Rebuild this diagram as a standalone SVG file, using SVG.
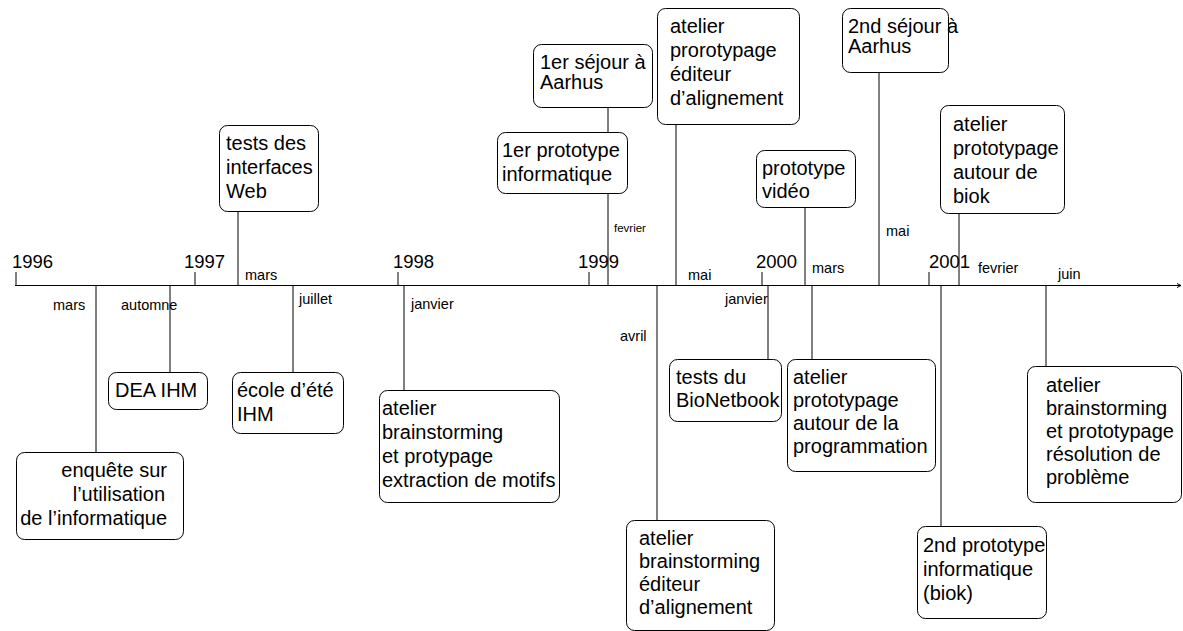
<svg xmlns="http://www.w3.org/2000/svg" width="1183" height="631" viewBox="0 0 1183 631">
<style>
.box{fill:#fff;stroke:#000;stroke-width:1}
.t{font-family:"Liberation Sans",Arial,sans-serif;font-size:20px;fill:#000}
.yr{font-family:"Liberation Sans",Arial,sans-serif;font-size:18.5px;fill:#000}
.sm{font-family:"Liberation Sans",Arial,sans-serif;font-size:14.5px;fill:#000}
.xs{font-family:"Liberation Sans",Arial,sans-serif;font-size:11.5px;fill:#000}
.ln{stroke:#000;stroke-width:1;fill:none}
</style>
<defs>
<marker id="arr" markerWidth="8" markerHeight="8" refX="6" refY="4" orient="auto" markerUnits="userSpaceOnUse">
<polyline points="2,2 6,4 2,6" fill="none" stroke="#000" stroke-width="1"/>
</marker>
</defs>
<g id="axis">
<line class="ln" x1="15" y1="285.5" x2="1181" y2="285.5" marker-end="url(#arr)"/>
<line class="ln" x1="16" y1="272" x2="16" y2="285"/>
<line class="ln" x1="195" y1="272" x2="195" y2="285"/>
<line class="ln" x1="398" y1="272" x2="398" y2="285"/>
<line class="ln" x1="589" y1="272" x2="589" y2="285"/>
<line class="ln" x1="762" y1="272" x2="762" y2="285"/>
<line class="ln" x1="929" y1="272" x2="929" y2="285"/>
<text class="yr" x="12" y="267.5">1996</text>
<text class="yr" x="184" y="267.5">1997</text>
<text class="yr" x="393" y="267.5">1998</text>
<text class="yr" x="578" y="267.5">1999</text>
<text class="yr" x="756" y="267.5">2000</text>
<text class="yr" x="929" y="267.5">2001</text>
</g>
<g id="connectors">
<line class="ln" x1="96" y1="285" x2="96" y2="452"/>
<line class="ln" x1="170" y1="285" x2="170" y2="372"/>
<line class="ln" x1="238" y1="285" x2="238" y2="211"/>
<line class="ln" x1="293" y1="285" x2="293" y2="372"/>
<line class="ln" x1="404" y1="285" x2="404" y2="390"/>
<line class="ln" x1="608" y1="285" x2="608" y2="193"/>
<line class="ln" x1="608" y1="132" x2="608" y2="107"/>
<line class="ln" x1="676" y1="285" x2="676" y2="124"/>
<line class="ln" x1="657" y1="285" x2="657" y2="520"/>
<line class="ln" x1="768" y1="285" x2="768" y2="359"/>
<line class="ln" x1="805" y1="285" x2="805" y2="207"/>
<line class="ln" x1="812" y1="285" x2="812" y2="359"/>
<line class="ln" x1="879" y1="285" x2="879" y2="72"/>
<line class="ln" x1="941" y1="285" x2="941" y2="526"/>
<line class="ln" x1="959" y1="285" x2="959" y2="213"/>
<line class="ln" x1="1046" y1="285" x2="1046" y2="366"/>
</g>
<g id="dates">
<text class="sm" x="53" y="310">mars</text>
<text class="sm" x="121" y="310">automne</text>
<text class="sm" x="245" y="280">mars</text>
<text class="sm" x="299" y="304">juillet</text>
<text class="sm" x="411" y="309">janvier</text>
<text class="xs" x="614" y="232">fevrier</text>
<text class="sm" x="620" y="341">avril</text>
<text class="sm" x="688" y="280">mai</text>
<text class="sm" x="725" y="304">janvier</text>
<text class="sm" x="812" y="273">mars</text>
<text class="sm" x="886" y="236">mai</text>
<text class="sm" x="978" y="273">fevrier</text>
<text class="sm" x="1058" y="279">juin</text>
</g>
<g id="n-enquete">
<rect class="box" x="16.5" y="452.5" width="167" height="87" rx="8"/>
<text class="t" text-anchor="end" x="167" y="477">enquête sur</text>
<text class="t" text-anchor="end" x="165" y="501">l’utilisation</text>
<text class="t" text-anchor="end" x="167" y="525">de l’informatique</text>
</g>
<g id="n-dea">
<rect class="box" x="108.5" y="372.5" width="99" height="37" rx="8"/>
<text class="t" x="115" y="397">DEA IHM</text>
</g>
<g id="n-ecole">
<rect class="box" x="232.5" y="372.5" width="111" height="61" rx="8"/>
<text class="t" x="237" y="397">école d’été</text>
<text class="t" x="237" y="421">IHM</text>
</g>
<g id="n-extraction">
<rect class="box" x="379.5" y="390.5" width="180" height="112" rx="8"/>
<text class="t" x="382" y="415">atelier</text>
<text class="t" x="382" y="439">brainstorming</text>
<text class="t" x="382" y="463">et protypage</text>
<text class="t" x="382" y="487">extraction de motifs</text>
</g>
<g id="n-avril">
<rect class="box" x="626.5" y="520.5" width="148" height="110" rx="8"/>
<text class="t" x="639" y="545">atelier</text>
<text class="t" x="639" y="568">brainstorming</text>
<text class="t" x="639" y="591">éditeur</text>
<text class="t" x="639" y="614">d’alignement</text>
</g>
<g id="n-bionetbook">
<rect class="box" x="669.5" y="359.5" width="112" height="62" rx="8"/>
<text class="t" x="676" y="384">tests du</text>
<text class="t" x="676" y="407">BioNetbook</text>
</g>
<g id="n-programmation">
<rect class="box" x="787.5" y="359.5" width="148" height="112" rx="8"/>
<text class="t" x="793" y="384">atelier</text>
<text class="t" x="793" y="407">prototypage</text>
<text class="t" x="793" y="430">autour de la</text>
<text class="t" x="793" y="453">programmation</text>
</g>
<g id="n-proto2">
<rect class="box" x="917.5" y="526.5" width="129" height="92" rx="8"/>
<text class="t" x="923" y="552">2nd prototype</text>
<text class="t" x="923" y="576">informatique</text>
<text class="t" x="923" y="600">(biok)</text>
</g>
<g id="n-resolution">
<rect class="box" x="1027.5" y="366.5" width="154" height="136" rx="8"/>
<text class="t" x="1046" y="392">atelier</text>
<text class="t" x="1046" y="415">brainstorming</text>
<text class="t" x="1046" y="438">et prototypage</text>
<text class="t" x="1046" y="461">résolution de</text>
<text class="t" x="1046" y="484">problème</text>
</g>
<g id="n-web">
<rect class="box" x="219.5" y="125.5" width="99" height="86" rx="8"/>
<text class="t" x="226" y="150">tests des</text>
<text class="t" x="226" y="174">interfaces</text>
<text class="t" x="226" y="198">Web</text>
</g>
<g id="n-proto1">
<rect class="box" x="497.5" y="132.5" width="130" height="61" rx="8"/>
<text class="t" x="502" y="157">1er prototype</text>
<text class="t" x="502" y="181">informatique</text>
</g>
<g id="n-sejour1">
<rect class="box" x="533.5" y="44.5" width="119" height="63" rx="8"/>
<text class="t" x="540" y="69">1er séjour à</text>
<text class="t" x="540" y="89">Aarhus</text>
</g>
<g id="n-prorotypage">
<rect class="box" x="657.5" y="8.5" width="142" height="116" rx="8"/>
<text class="t" x="670" y="33">atelier</text>
<text class="t" x="670" y="57">prorotypage</text>
<text class="t" x="670" y="81">éditeur</text>
<text class="t" x="670" y="105">d’alignement</text>
</g>
<g id="n-sejour2">
<rect class="box" x="842.5" y="8.5" width="106" height="64" rx="8"/>
<text class="t" x="848" y="33">2nd séjour à</text>
<text class="t" x="848" y="53">Aarhus</text>
</g>
<g id="n-video">
<rect class="box" x="756.5" y="150.5" width="99" height="57" rx="8"/>
<text class="t" x="762" y="175">prototype</text>
<text class="t" x="762" y="198">vidéo</text>
</g>
<g id="n-biok">
<rect class="box" x="940.5" y="105.5" width="124" height="108" rx="8"/>
<text class="t" x="953" y="131">atelier</text>
<text class="t" x="953" y="155">prototypage</text>
<text class="t" x="953" y="179">autour de</text>
<text class="t" x="953" y="203">biok</text>
</g>
</svg>
